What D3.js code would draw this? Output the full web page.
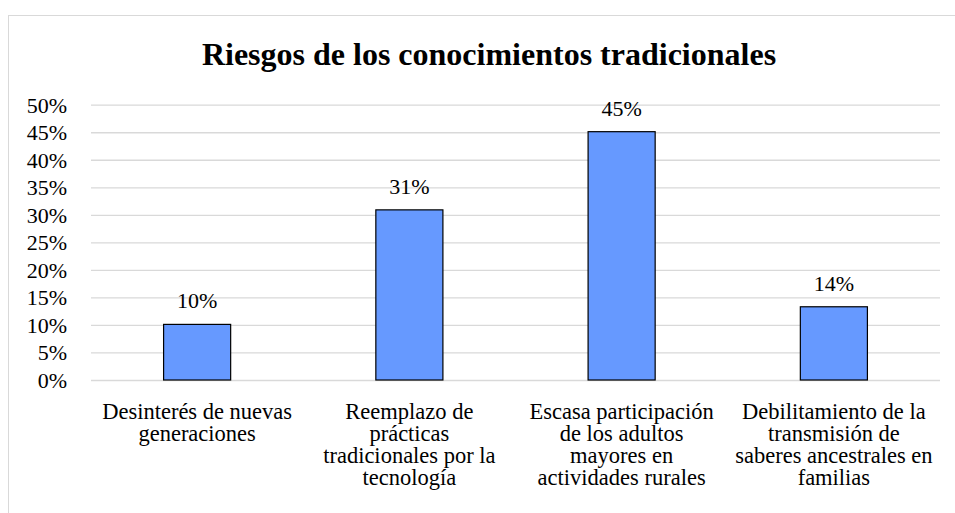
<!DOCTYPE html>
<html>
<head>
<meta charset="utf-8">
<script src="https://cdn.jsdelivr.net/npm/d3@7"></script>
<style>
  html, body { margin: 0; padding: 0; background: #fff; }
  text { font-family: "Liberation Serif", "Times New Roman", serif; fill: #000; }
</style>
</head>
<body>
<div id="chart-area"></div>
<script>
// chart data
const categories = [
  ["Desinterés de nuevas", "generaciones"],
  ["Reemplazo de", "prácticas", "tradicionales por la", "tecnología"],
  ["Escasa participación", "de los adultos", "mayores en", "actividades rurales"],
  ["Debilitamiento de la", "transmisión de", "saberes ancestrales en", "familias"]
]
const values = [0.101, 0.309, 0.451, 0.133]
const valueLabels = ["10%", "31%", "45%", "14%"]
const yTicks = [0, 0.05, 0.1, 0.15, 0.2, 0.25, 0.3, 0.35, 0.4, 0.45, 0.5]
const title = "Riesgos de los conocimientos tradicionales"

const W = 955, H = 513
const MARGIN = { LEFT: 91, RIGHT: 15, TOP: 104.7, BOTTOM: 133 }
const WIDTH = W - MARGIN.LEFT - MARGIN.RIGHT
const HEIGHT = H - MARGIN.TOP - MARGIN.BOTTOM

const svg = d3.select("#chart-area").append("svg")
  .attr("width", W)
  .attr("height", H)

// outer chart border
svg.append("rect")
  .attr("x", 8.5).attr("y", 15.5)
  .attr("width", W).attr("height", H)
  .attr("fill", "none")
  .attr("stroke", "#d9d9d9")
  .attr("stroke-width", 1)

// title
svg.append("text")
  .attr("x", 489)
  .attr("y", 65)
  .attr("text-anchor", "middle")
  .attr("font-size", "32px")
  .attr("font-weight", "bold")
  .text(title)

const g = svg.append("g")
  .attr("transform", `translate(${MARGIN.LEFT}, ${MARGIN.TOP})`)

const x = d3.scaleBand()
  .domain(d3.range(categories.length))
  .range([0, WIDTH])

const y = d3.scaleLinear()
  .domain([0, 0.5])
  .range([HEIGHT, 0])

// gridlines + tick labels
const yAxisCall = d3.axisLeft(y)
  .tickValues(yTicks)
  .tickSize(-WIDTH)
  .tickPadding(24)
  .tickFormat(d3.format(".0%"))
const yAxis = g.append("g").attr("class", "y axis").call(yAxisCall)
yAxis.select(".domain").remove()
yAxis.selectAll("line").attr("stroke", "#d9d9d9").attr("stroke-width", 1.3)
yAxis.selectAll("text")
  .attr("font-size", "22px")
  .attr("fill", "#000")
  .attr("dy", "0.34em")

// bars
const barW = x.step() * 0.316
g.selectAll("rect.bar")
  .data(values)
  .enter().append("rect")
  .attr("class", "bar")
  .attr("x", (d, i) => x(i) + x.step() / 2 - barW / 2)
  .attr("y", d => y(d))
  .attr("width", barW)
  .attr("height", d => HEIGHT - y(d))
  .attr("fill", "#6699ff")
  .attr("stroke", "#000")
  .attr("stroke-width", 1.2)

// value labels
g.selectAll("text.val")
  .data(values)
  .enter().append("text")
  .attr("class", "val")
  .attr("x", (d, i) => x(i) + x.step() / 2)
  .attr("y", d => y(d) - 16)
  .attr("text-anchor", "middle")
  .attr("font-size", "22px")
  .text((d, i) => valueLabels[i])

// category labels
const cat = g.selectAll("text.cat")
  .data(categories)
  .enter().append("text")
  .attr("class", "cat")
  .attr("text-anchor", "middle")
  .attr("font-size", "22.5px")
  .attr("transform", (d, i) => `translate(${x(i) + x.step() / 2}, ${HEIGHT + 38.5})`)
cat.selectAll("tspan")
  .data(d => d)
  .enter().append("tspan")
  .attr("x", 0)
  .attr("y", (d, j) => j * 22.2)
  .text(d => d)
</script>
</body>
</html>
